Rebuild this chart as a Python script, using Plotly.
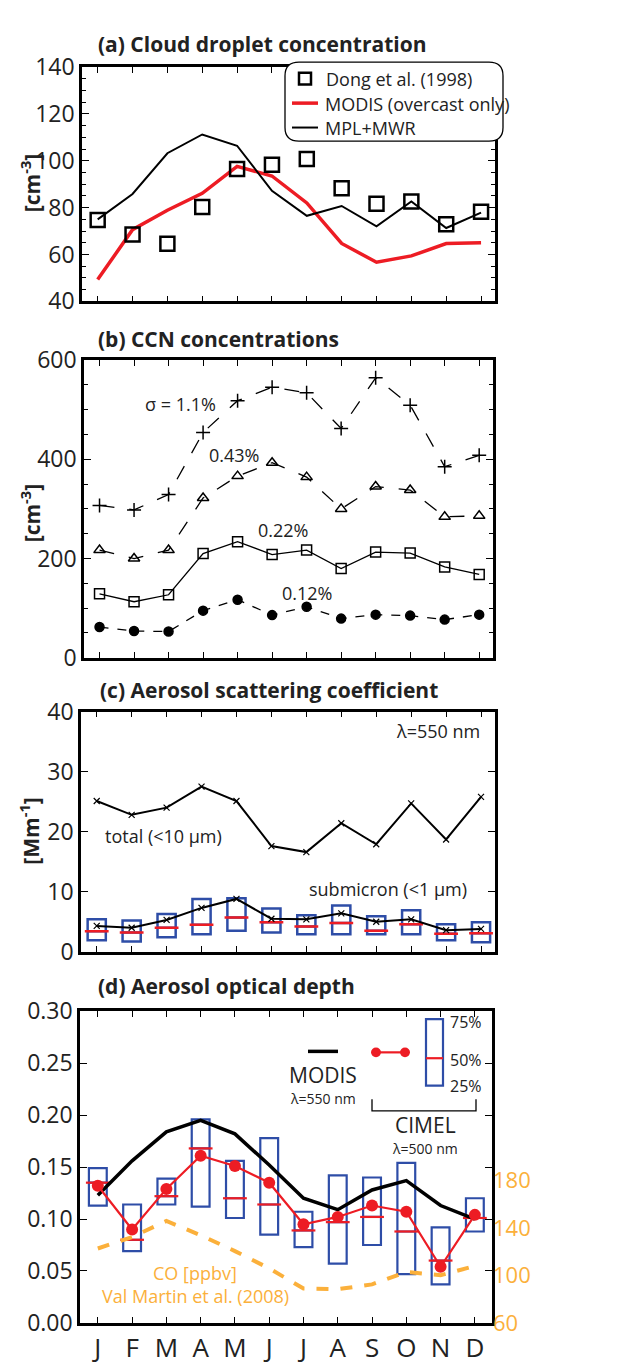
import plotly.graph_objects as go

months = ["J","F","M","A","M","J","J","A","S","O","N","D"]
m = list(range(1, 13))

# (a) cloud droplet concentration
dong = [74.7, 68.5, 64.6, 80.3, 96.5, 98.3, 100.7, 88.3, 81.7, 82.6, 72.9, 78.2]
mpl_mwr = [75, 85.8, 103.2, 111.2, 106.4, 87.2, 76.5, 80.7, 72, 82.6, 71.3, 77.9]
modis_nd = [49.3, 70.6, 78.9, 86.1, 97.6, 93.5, 82, 64.7, 56.7, 59.4, 64.7, 65]

# (b) CCN
ccn_11 = [307, 298, 329, 454, 518, 545, 534, 462, 564, 509, 385, 408]
ccn_043 = [217, 200, 217, 322, 366, 393, 364, 300, 345, 338, 284, 286]
ccn_022 = [129, 113, 127, 210, 234, 208, 217, 180, 213, 211, 183, 168]
ccn_012 = [62, 54, 53, 95, 117, 86, 103, 79, 87, 85, 77, 87]

# (c) scattering
total_sc = [25.1, 22.8, 24.0, 27.5, 25.1, 17.6, 16.6, 21.4, 17.9, 24.7, 18.7, 25.8]
sub_mean = [4.3, 4.0, 5.3, 7.3, 8.8, 5.5, 5.4, 6.4, 5.0, 5.4, 3.6, 3.8]
sub_q3 = [5.4, 5.2, 6.3, 8.8, 8.9, 7.2, 6.1, 7.7, 5.9, 6.9, 4.6, 4.9]
sub_q1 = [1.9, 1.7, 2.4, 2.9, 3.5, 3.2, 2.9, 2.9, 2.9, 2.9, 1.9, 1.6]
sub_med = [3.4, 3.2, 4.0, 4.5, 5.7, 4.9, 4.2, 4.8, 3.5, 4.6, 3.0, 3.1]

# (d) AOD
modis_aod = [0.123, 0.156, 0.184, 0.195, 0.182, 0.152, 0.120, 0.109, 0.128, 0.137, 0.113, 0.100]
cimel_mean = [0.132, 0.090, 0.129, 0.161, 0.151, 0.135, 0.095, 0.102, 0.113, 0.107, 0.054, 0.104]
cimel_q3 = [0.149, 0.114, 0.139, 0.196, 0.156, 0.178, 0.107, 0.142, 0.140, 0.154, 0.092, 0.120]
cimel_q1 = [0.113, 0.069, 0.114, 0.112, 0.101, 0.085, 0.073, 0.057, 0.075, 0.047, 0.037, 0.088]
cimel_med = [0.135, 0.080, 0.122, 0.168, 0.120, 0.114, 0.089, 0.097, 0.102, 0.088, 0.060, 0.101]
co_ppbv = [122.8, 132.5, 146, 134, 120.6, 106, 89, 88.4, 92.5, 103, 100.2, 108]

RED = "#ED1C24"; BLUE = "#2E4DA7"; ORANGE = "#FBB03B"; CYAN = "#22C7C7"
FONT = "Open Sans"
W, H = 620, 1366
def X(px): return px / W
def Y(py): return 1 - py / H

fig = go.Figure()

# ---- panel a
fig.add_trace(go.Scatter(x=m, y=modis_nd, mode="lines", line=dict(color=RED, width=3.5), xaxis="x", yaxis="y"))
fig.add_trace(go.Scatter(x=m, y=mpl_mwr, mode="lines", line=dict(color="black", width=2), xaxis="x", yaxis="y"))
fig.add_trace(go.Scatter(x=m, y=dong, mode="markers", marker=dict(symbol="square-open", size=14, color="black", line=dict(width=2.5, color="black")), xaxis="x", yaxis="y"))

# ---- panel b
for vals, sym, dash, sz in [(ccn_11, "cross-thin-open", "longdash", 10), (ccn_043, "triangle-up-open", "longdash", 10),
                            (ccn_022, "square-open", "solid", 10), (ccn_012, "circle", "dash", 9)]:
    fig.add_trace(go.Scatter(x=m, y=vals, mode="lines+markers", line=dict(color="black", width=1.3, dash=dash),
                             marker=dict(symbol=sym, size=sz, color="black", line=dict(width=1.5, color="black")),
                             xaxis="x2", yaxis="y2"))

# ---- panel c
fig.add_trace(go.Scatter(x=m, y=total_sc, mode="lines+markers", line=dict(color="black", width=2),
                         marker=dict(symbol="x-thin-open", size=6, color="black",
                                     line=dict(width=1.2, color=["black"]*6 + [CYAN] + ["black"]*5)),
                         xaxis="x3", yaxis="y3"))
fig.add_trace(go.Box(x=m, q1=sub_q1, q3=sub_q3, median=sub_med, lowerfence=sub_q1, upperfence=sub_q3,
                     fillcolor="rgba(0,0,0,0)", line=dict(color=BLUE, width=2.5), whiskerwidth=0, width=0.52,
                     xaxis="x3", yaxis="y3"))
fig.add_trace(go.Scatter(x=m, y=sub_med, mode="markers",
                         marker=dict(symbol="line-ew-open", size=17, color=RED, line=dict(color=RED, width=2.5)),
                         xaxis="x3", yaxis="y3"))
fig.add_trace(go.Scatter(x=m, y=sub_mean, mode="lines+markers", line=dict(color="black", width=2),
                         marker=dict(symbol="x-thin-open", size=6, color="black", line=dict(width=1.2, color="black")),
                         xaxis="x3", yaxis="y3"))

# ---- panel d
fig.add_trace(go.Scatter(x=m, y=co_ppbv, mode="lines", line=dict(color=ORANGE, width=4, dash="dash"), xaxis="x4", yaxis="y5"))
fig.add_trace(go.Box(x=m, q1=cimel_q1, q3=cimel_q3, median=cimel_med, lowerfence=cimel_q1, upperfence=cimel_q3,
                     fillcolor="rgba(0,0,0,0)", line=dict(color=BLUE, width=2.2), whiskerwidth=0, width=0.52,
                     xaxis="x4", yaxis="y4"))
fig.add_trace(go.Scatter(x=m, y=cimel_med, mode="markers",
                         marker=dict(symbol="line-ew-open", size=17, color=RED, line=dict(color=RED, width=2.2)),
                         xaxis="x4", yaxis="y4"))
fig.add_trace(go.Scatter(x=m, y=modis_aod, mode="lines", line=dict(color="black", width=3.5), xaxis="x4", yaxis="y4"))
fig.add_trace(go.Scatter(x=m, y=cimel_mean, mode="lines+markers", line=dict(color=RED, width=2.2),
                         marker=dict(symbol="circle", size=12, color=RED), xaxis="x4", yaxis="y4"))

tf = dict(family=FONT, size=23, color="#222")
def xax(dom, rng, labels=False):
    d = dict(domain=dom, range=rng, tickvals=m, ticks="inside", ticklen=6, mirror="ticks", showline=True,
             linecolor="black", linewidth=2.5, showgrid=False, zeroline=False, tickcolor="black")
    if labels:
        d.update(ticktext=months, tickfont=dict(family=FONT, size=26, color="#222"))
    else:
        d.update(showticklabels=False)
    return d
def yax(dom, rng, dt, minor=None, anchor="x"):
    d = dict(domain=dom, range=rng, dtick=dt, tick0=0, ticks="inside", ticklen=7, mirror="ticks", showline=True,
             linecolor="black", linewidth=2.5, showgrid=False, zeroline=False, tickfont=tf, anchor=anchor, tickcolor="black")
    if minor:
        d["minor"] = dict(dtick=minor, ticks="inside", ticklen=4, tickcolor="black")
    return d

fig.update_layout(
    width=W, height=H, margin=dict(l=0, r=0, t=0, b=0), showlegend=False,
    plot_bgcolor="white", paper_bgcolor="white",
    xaxis=xax([X(74), X(487)], [0.55, 12.4]),
    yaxis=yax([Y(283), Y(43)], [40, 140], 20, 5, "x"),
    xaxis2=dict(xax([X(76), X(485)], [0.55, 12.4]), anchor="y2"),
    yaxis2=yax([Y(648), Y(343)], [0, 600], 200, 50, "x2"),
    xaxis3=dict(xax([X(73), X(487)], [0.55, 12.4]), anchor="y3"),
    yaxis3=yax([Y(949), Y(703)], [0, 40], 10, None, "x3"),
    xaxis4=dict(xax([X(72), X(484)], [0.48, 12.5], True), anchor="y4"),
    yaxis4=dict(yax([Y(1329), Y(1010)], [0, 0.30], 0.05, None, "x4"), tickformat=".2f"),
    yaxis5=dict(overlaying="y4", side="right", range=[60, 323], tickvals=[60, 100, 140, 180], anchor="x4",
                tickfont=dict(family=FONT, size=22, color=ORANGE), ticks="", showgrid=False, zeroline=False, showline=False),
)

ann = []
def A(px, py, text, size=20, color="#222", bold=False, xanchor="center", angle=0):
    t = "<b>%s</b>" % text if bold else text
    ann.append(dict(x=X(px), y=Y(py), xref="paper", yref="paper", text=t, showarrow=False, xanchor=xanchor,
                    yanchor="middle", textangle=angle, font=dict(family=FONT, size=size, color=color)))

A(88, 19, "(a) Cloud droplet concentration", 21, bold=True, xanchor="left")
A(88, 322, "(b) CCN concentrations", 21, bold=True, xanchor="left")
A(90, 681, "(c) Aerosol scattering coefficient", 21, bold=True, xanchor="left")
A(88, 984, "(d) Aerosol optical depth", 21, bold=True, xanchor="left")
A(22, 162, "[cm<sup>-3</sup>]", 21, bold=True, angle=-90)
A(22, 500, "[cm<sup>-3</sup>]", 21, bold=True, angle=-90)
A(22, 826, "[Mm<sup>-1</sup>]", 21, bold=True, angle=-90)
# legend a
A(316, 55, "Dong et al. (1998)", 18, xanchor="left")
A(315, 81, "MODIS (overcast only)", 18, xanchor="left")
A(315, 105, "MPL+MWR", 18, xanchor="left")
# panel b labels
A(172, 388, "σ = 1.1%", 18); A(226, 440, "0.43%", 18); A(275, 517, "0.22%", 18); A(299, 582, "0.12%", 18)
# panel c labels
A(430, 723, "λ=550 nm", 18); A(156, 830, "total (<10 μm)", 18); A(380, 885, "submicron (<1 μm)", 18)
# panel d legend
A(315, 1075, "MODIS", 21); A(315, 1099, "λ=550 nm", 14)
A(417, 1126, "CIMEL", 21); A(417, 1150, "λ=500 nm", 14)
A(440, 1021, "75%", 16, xanchor="left"); A(440, 1060, "50%", 16, xanchor="left"); A(440, 1086, "25%", 16, xanchor="left")
A(187, 1278, "CO [ppbv]", 18, ORANGE); A(187, 1302, "Val Martin et al. (2008)", 18, ORANGE)

shapes = []
def S(**k):
    k.setdefault("xref", "paper"); k.setdefault("yref", "paper"); shapes.append(k)
# rounded legend box
x0, x1, y0, y1, r = X(277), X(495), Y(119), Y(38), 14
rx, ry = r / W, r / H
path = (f"M {x0+rx},{y1} L {x1-rx},{y1} Q {x1},{y1} {x1},{y1-ry} L {x1},{y0+ry} Q {x1},{y0} {x1-rx},{y0} "
        f"L {x0+rx},{y0} Q {x0},{y0} {x0},{y0+ry} L {x0},{y1-ry} Q {x0},{y1} {x0+rx},{y1} Z")
S(type="path", path=path, line=dict(color="black", width=1.3), fillcolor="white", layer="above")
S(type="rect", x0=X(291), x1=X(303), y0=Y(61), y1=Y(49), line=dict(color="black", width=2.5))
S(type="line", x0=X(284), x1=X(310), y0=Y(80), y1=Y(80), line=dict(color=RED, width=3.5))
S(type="line", x0=X(284), x1=X(310), y0=Y(105), y1=Y(105), line=dict(color="black", width=2))
# panel d legend shapes
S(type="line", x0=X(300), x1=X(330), y0=Y(1051), y1=Y(1051), line=dict(color="black", width=3.5))
S(type="line", x0=X(368), x1=X(397), y0=Y(1052), y1=Y(1052), line=dict(color=RED, width=2.2))
for cx in (368, 397):
    S(type="circle", x0=X(cx-5), x1=X(cx+5), y0=Y(1057), y1=Y(1047), fillcolor=RED, line=dict(color=RED, width=0))
S(type="rect", x0=X(418), x1=X(435), y0=Y(1086), y1=Y(1018), line=dict(color=BLUE, width=2.2))
S(type="line", x0=X(418), x1=X(435), y0=Y(1058), y1=Y(1058), line=dict(color=RED, width=2.2))
S(type="path", path=f"M {X(364)},{Y(1100)} L {X(364)},{Y(1112)} L {X(468)},{Y(1112)} L {X(468)},{Y(1100)}",
  line=dict(color="black", width=1.3))

fig.update_layout(annotations=ann, shapes=shapes)
fig.write_html("out.html")
